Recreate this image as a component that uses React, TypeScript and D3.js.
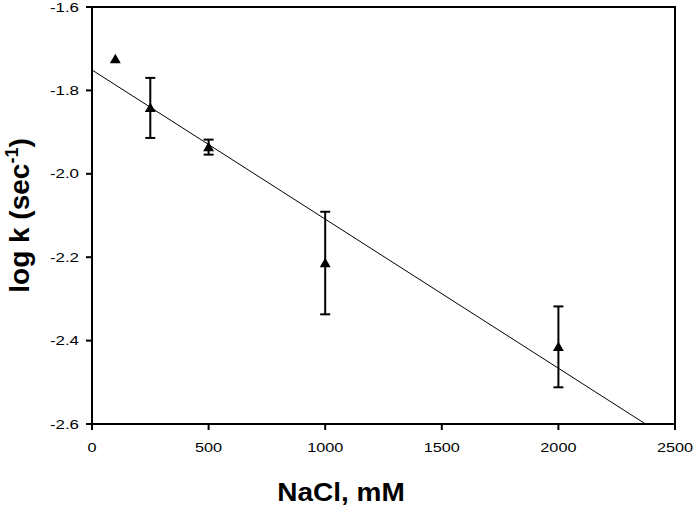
import * as d3 from "d3";

// NaCl concentration (mM) and measured log k with error
const nacl = [100, 250, 500, 1000, 2000];
const logK = [-1.725, -1.842, -1.936, -2.214, -2.415];
const logKErr = [0, 0.072, 0.018, 0.123, 0.097];

const xTicks = [0, 500, 1000, 1500, 2000, 2500];
const yTicks = [-1.6, -1.8, -2.0, -2.2, -2.4, -2.6];

const width = 693;
const height = 508;
const marginLeft = 92;
const marginRight = 18;
const marginTop = 7;
const marginBottom = 84;

// simple least-squares fit through the points
function fit(xs: number[], ys: number[]) {
  const mx = d3.mean(xs)!;
  const my = d3.mean(ys)!;
  let sxy = 0;
  let sxx = 0;
  xs.forEach((x, i) => {
    sxy += (x - mx) * (ys[i] - my);
    sxx += (x - mx) * (x - mx);
  });
  const slope = sxy / sxx;
  return { slope, intercept: my - slope * mx };
}

export default function App() {
  const x = d3.scaleLinear([0, 2500], [marginLeft, width - marginRight]);
  const y = d3.scaleLinear([-2.6, -1.6], [height - marginBottom, marginTop]);

  const { slope, intercept } = fit(nacl, logK);
  const xEnd = Math.min(2500, (-2.6 - intercept) / slope);
  const line = d3
    .line<number>()
    .x((d) => x(d))
    .y((d) => y(intercept + slope * d));

  const tri = d3.symbol(d3.symbolTriangle, 52)()!;
  const x0 = x(0);
  const x1 = x(2500);
  const y0 = y(-2.6);
  const y1 = y(-1.6);
  const font = "'Liberation Sans', Arial, sans-serif";

  return (
    <svg
      width={width}
      height={height}
      style={{ position: "absolute", left: 0, top: 0, background: "#fff" }}
      fontFamily={font}
    >
      {/* regression line */}
      <path d={line([0, xEnd])!} fill="none" stroke="#000" strokeWidth={1} />

      {/* error bars */}
      <g stroke="#000" strokeWidth={2}>
        {nacl.map((n, i) =>
          logKErr[i] > 0 ? (
            <g key={i}>
              <line x1={x(n)} x2={x(n)} y1={y(logK[i] + logKErr[i])} y2={y(logK[i] - logKErr[i])} />
              <line x1={x(n) - 5} x2={x(n) + 5} y1={y(logK[i] + logKErr[i])} y2={y(logK[i] + logKErr[i])} />
              <line x1={x(n) - 5} x2={x(n) + 5} y1={y(logK[i] - logKErr[i])} y2={y(logK[i] - logKErr[i])} />
            </g>
          ) : null
        )}
      </g>

      {/* points */}
      {nacl.map((n, i) => (
        <path key={i} d={tri} transform={`translate(${x(n)},${y(logK[i]) + 1})`} fill="#000" />
      ))}

      {/* frame */}
      <rect x={x0} y={y1} width={x1 - x0} height={y0 - y1} fill="none" stroke="#000" strokeWidth={2} />

      {/* x ticks */}
      <g>
        {xTicks.map((t) => (
          <g key={t}>
            <line x1={x(t)} x2={x(t)} y1={y0} y2={y0 + 6} stroke="#000" strokeWidth={2} />
            <text
              transform={`translate(${x(t)},${y0 + 28}) scale(1.25,1)`}
              textAnchor="middle"
              fontSize={13}
              fill="#000"
            >
              {t}
            </text>
          </g>
        ))}
      </g>

      {/* y ticks */}
      <g>
        {yTicks.map((t) => (
          <g key={t}>
            <line x1={x0 - 6} x2={x0} y1={y(t)} y2={y(t)} stroke="#000" strokeWidth={2} />
            <text
              transform={`translate(${x0 - 13},${y(t) + 4.5}) scale(1.3,1)`}
              textAnchor="end"
              fontSize={13}
              fill="#000"
            >
              {d3.format(".1f")(t).replace("−", "-")}
            </text>
          </g>
        ))}
      </g>

      {/* axis titles */}
      <text
        transform={`translate(341,501) scale(1.12,1)`}
        textAnchor="middle"
        fontSize={25}
        fontWeight="bold"
        fill="#000"
      >
        NaCl, mM
      </text>
      <text
        transform={`translate(29,${(y0 + y1) / 2}) rotate(-90)`}
        textAnchor="middle"
        fontSize={28}
        fontWeight="bold"
        fill="#000"
      >
        log k (sec
        <tspan fontSize={18} dy={-11}>-1</tspan>
        <tspan dy={11}>)</tspan>
      </text>
    </svg>
  );
}
